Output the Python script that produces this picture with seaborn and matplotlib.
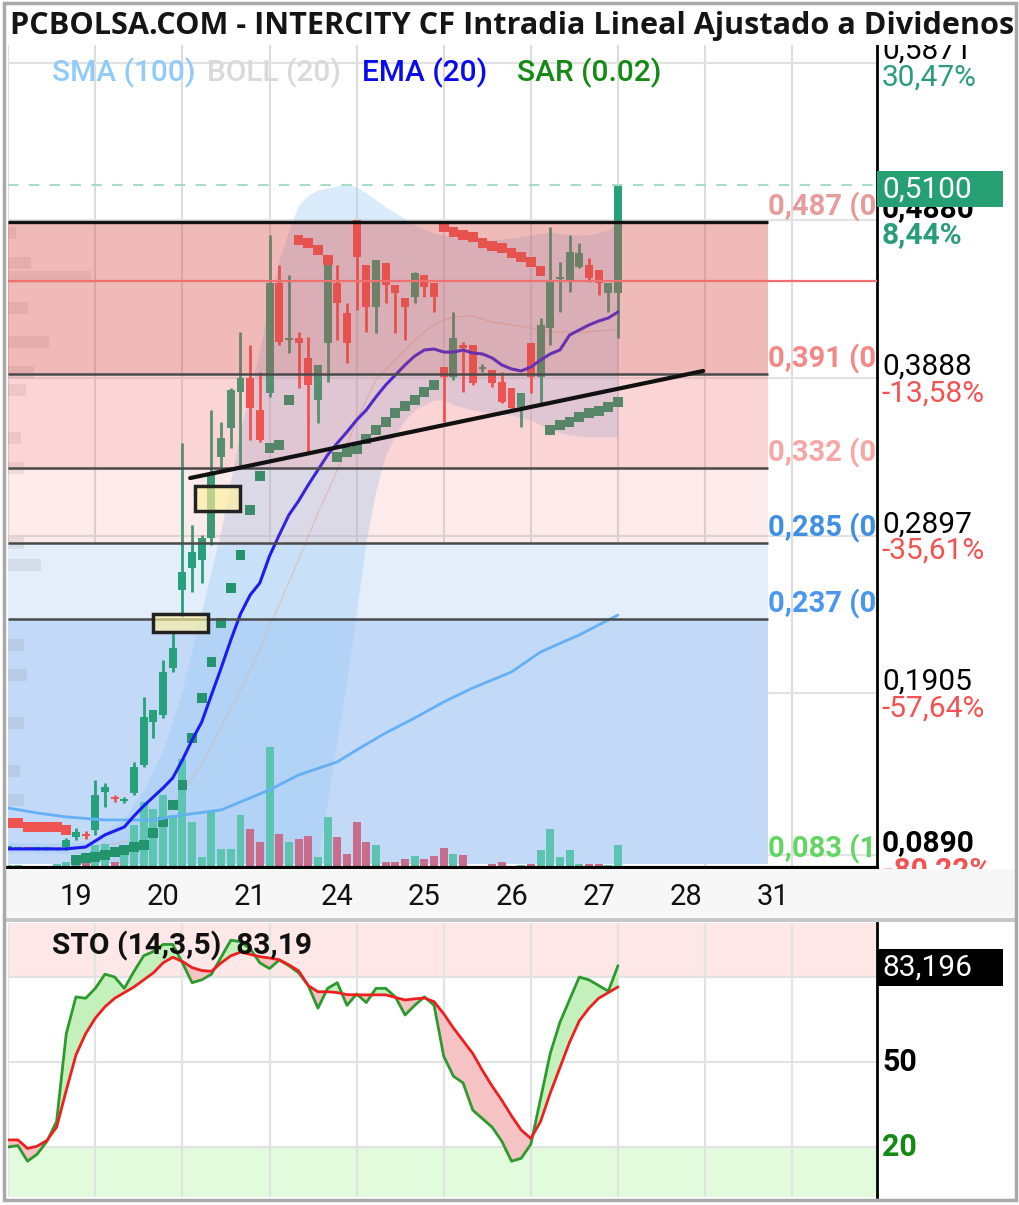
import numpy as np
import pandas as pd
import matplotlib
matplotlib.use("Agg")
import matplotlib.pyplot as plt
import seaborn as sns
from matplotlib.patches import Rectangle
from matplotlib.transforms import blended_transform_factory

sns.set_theme(style="white")
plt.rcParams['font.family'] = ['Roboto', 'DejaVu Sans']

# ------------------------------------------------------------------
# data: hourly bars, 9 per session
# ------------------------------------------------------------------
day_labels = ['19', '20', '21', '24', '25', '26', '27', '28', '31']
bars_per_day = 9

opens = [0.0935, 0.0930, 0.0930, 0.0925, 0.0925, 0.0922, 0.0940, 0.1003, 0.1022,
         0.1047, 0.1286, 0.1255, 0.1229, 0.1280, 0.1456, 0.1726, 0.1770, 0.2065,
         0.2556, 0.2694, 0.2744, 0.2882, 0.3391, 0.3574, 0.3800, 0.3888, 0.3687,
         0.3794, 0.4485, 0.4127, 0.4139, 0.4014, 0.3750, 0.4108, 0.4485, 0.4297,
         0.4881, 0.4598, 0.4334, 0.4611, 0.4473, 0.4391, 0.4397, 0.4535, 0.4485,
         0.3957, 0.3894, 0.4095, 0.4095, 0.3945, 0.3938, 0.3863, 0.3825, 0.3706,
         0.4108, 0.3894, 0.4202, 0.4510, 0.4491, 0.4586, 0.4598, 0.4567, 0.4422,
         0.4422]
highs = [0.0940, 0.0935, 0.0935, 0.0930, 0.0930, 0.0935, 0.0997, 0.1060, 0.1041,
         0.1361, 0.1343, 0.1267, 0.1255, 0.1475, 0.1883, 0.1801, 0.2116, 0.2285,
         0.3479, 0.2964, 0.2901, 0.3687, 0.3611, 0.3825, 0.4177, 0.4095, 0.3926,
         0.4787, 0.4598, 0.4535, 0.4177, 0.4146, 0.3970, 0.4598, 0.4598, 0.4359,
         0.4881, 0.4598, 0.4630, 0.4611, 0.4473, 0.4391, 0.4554, 0.4535, 0.4485,
         0.3957, 0.4303, 0.4114, 0.4095, 0.3976, 0.3938, 0.3926, 0.3825, 0.3794,
         0.4108, 0.4265, 0.4837, 0.4617, 0.4787, 0.4736, 0.4642, 0.4567, 0.4485,
         0.5100]
lows = [0.0930, 0.0925, 0.0925, 0.0920, 0.0920, 0.0918, 0.0921, 0.0984, 0.0991,
        0.1016, 0.1192, 0.1223, 0.1217, 0.1267, 0.1443, 0.1625, 0.1751, 0.2040,
        0.2386, 0.2543, 0.2600, 0.2838, 0.3329, 0.3448, 0.3329, 0.3498, 0.3486,
        0.3769, 0.4095, 0.4045, 0.3825, 0.3423, 0.3605, 0.3863, 0.4127, 0.3982,
        0.4315, 0.4177, 0.4171, 0.4359, 0.4171, 0.4127, 0.4359, 0.4397, 0.4303,
        0.3611, 0.3875, 0.3800, 0.3844, 0.3926, 0.3831, 0.3731, 0.3687, 0.3580,
        0.3794, 0.3731, 0.4095, 0.4303, 0.4429, 0.4579, 0.4491, 0.4410, 0.4303,
        0.4139]
closes = [0.0935, 0.0930, 0.0925, 0.0925, 0.0925, 0.0930, 0.0984, 0.1035, 0.1009,
          0.1267, 0.1317, 0.1242, 0.1242, 0.1443, 0.1757, 0.1801, 0.2040, 0.2191,
          0.2669, 0.2794, 0.2882, 0.3278, 0.3511, 0.3813, 0.3888, 0.3699, 0.3498,
          0.4485, 0.4114, 0.4133, 0.4108, 0.3844, 0.3970, 0.4598, 0.4359, 0.4108,
          0.4648, 0.4334, 0.4630, 0.4473, 0.4422, 0.4334, 0.4548, 0.4460, 0.4397,
          0.3894, 0.4139, 0.4077, 0.3857, 0.3957, 0.3857, 0.3737, 0.3699, 0.3794,
          0.3894, 0.4221, 0.4504, 0.4523, 0.4680, 0.4674, 0.4517, 0.4485, 0.4485,
          0.5100]
volume = [3, 3, 2, 2, 2, 4, 6, 9, 13, 23, 24, 6, 13, 43, 66, 59, 73, 53, 109, 46,
          11, 56, 19, 19, 53, 39, 26, 121, 34, 26, 29, 32, 11, 51, 31, 14, 46, 26,
          23, 6, 6, 9, 12, 9, 12, 20, 14, 13, 2, 1, 4, 6, 2, 3, 4, 18, 39, 11, 18,
          4, 4, 4, 3, 23]

ema20 = [0.0928, 0.0928, 0.0928, 0.0928, 0.0928, 0.0928, 0.0928, 0.0934, 0.0940,
         0.0978, 0.1016, 0.1041, 0.1066, 0.1135, 0.1198, 0.1255, 0.1311, 0.1374,
         0.1487, 0.1613, 0.1726, 0.1896, 0.2065, 0.2241, 0.2405, 0.2524, 0.2600,
         0.2769, 0.2901, 0.3027, 0.3115, 0.3216, 0.3310, 0.3404, 0.3479, 0.3549,
         0.3624, 0.3687, 0.3769, 0.3844, 0.3907, 0.3970, 0.4026, 0.4064, 0.4070,
         0.4051, 0.4051, 0.4064, 0.4045, 0.4039, 0.4014, 0.3970, 0.3945, 0.3932,
         0.3957, 0.4001, 0.4039, 0.4064, 0.4158, 0.4190, 0.4221, 0.4246, 0.4265,
         0.4303]
sar = [0.1091, 0.1091, 0.1066, 0.1066, 0.1066, 0.1066, 0.1047, 0.0859, 0.0871,
       0.0877, 0.0890, 0.0909, 0.0921, 0.0940, 0.0953, 0.1028, 0.1097, 0.1204,
       0.1330, 0.1625, 0.1877, 0.2103, 0.2348, 0.2568, 0.2776, 0.3058, 0.3272,
       0.3448, 0.3467, 0.3750, 0.4755, 0.4736, 0.4692, 0.4630, 0.3391, 0.3423,
       0.3442, 0.3505, 0.3561, 0.3611, 0.3668, 0.3712, 0.3750, 0.3800, 0.3844,
       0.4837, 0.4806, 0.4787, 0.4774, 0.4736, 0.4718, 0.4705, 0.4674, 0.4648,
       0.4617, 0.4560, 0.3561, 0.3593, 0.3611, 0.3643, 0.3668, 0.3681, 0.3706,
       0.3737]

sma_x = [0, 3, 6, 10, 15, 18, 22, 27, 30, 34, 36, 39, 42, 45, 48, 52, 55, 59, 63]
sma100 = [0.1185, 0.1154, 0.1129, 0.1110, 0.1110, 0.1141, 0.1173, 0.1299, 0.1393,
          0.1475, 0.1550, 0.1657, 0.1751, 0.1852, 0.1940, 0.2040, 0.2166, 0.2273,
          0.2398]

boll_x = [0, 4, 8, 9, 12, 14, 16, 18, 20, 22, 24, 26, 27, 28, 29, 30, 31, 32, 33,
          34, 35, 36, 37, 38, 39, 40, 41, 42, 43, 44, 45, 46, 48, 50, 52, 54, 56,
          58, 60, 62, 63]
boll_up = [0.0965, 0.0965, 0.0972, 0.0997, 0.1123, 0.1299, 0.1550, 0.1927, 0.2430,
           0.2933, 0.3561, 0.4064, 0.4378, 0.4630, 0.4818, 0.4975, 0.5038, 0.5070,
           0.5082, 0.5095, 0.5107, 0.5088, 0.5051, 0.5007, 0.4963, 0.4925, 0.4887,
           0.4850, 0.4824, 0.4799, 0.4787, 0.4774, 0.4755, 0.4755, 0.4768, 0.4787,
           0.4806, 0.4787, 0.4787, 0.4818, 0.4868]
boll_mid = [0.0934, 0.0934, 0.0934, 0.0940, 0.0972, 0.1035, 0.1141, 0.1286, 0.1456,
            0.1695, 0.1927, 0.2178, 0.2336, 0.2461, 0.2606, 0.2744, 0.2889, 0.3040,
            0.3172, 0.3310, 0.3467, 0.3624, 0.3750, 0.3875, 0.3938, 0.4001, 0.4064,
            0.4127, 0.4177, 0.4221, 0.4252, 0.4271, 0.4278, 0.4240, 0.4221, 0.4202,
            0.4177, 0.4177, 0.4177, 0.4190, 0.4190]
boll_low = [0.0903, 0.0903, 0.0896, 0.0871, 0.0821, 0.0733, 0.0607, 0.0419, 0.0230,
            0.0042, -0.0084, -0.0147, -0.0147, -0.0084, 0.0042, 0.0230, 0.0544,
            0.0859, 0.1236, 0.1613, 0.1990, 0.2430, 0.2870, 0.3184, 0.3404, 0.3530,
            0.3624, 0.3687, 0.3718, 0.3750, 0.3750, 0.3718, 0.3687, 0.3668, 0.3655,
            0.3624, 0.3561, 0.3530, 0.3517, 0.3517, 0.3517]

sto_k = [20, 20.5, 15, 17.5, 22, 29, 60, 73, 72.5, 76,
         81, 80, 76, 82, 87.5, 89, 91.5, 91.5, 85, 78,
         79, 81, 87, 93, 92.5, 90, 85, 83, 86, 84,
         81.5, 77, 69, 76, 78, 70, 74, 71, 76, 76,
         73, 66.6, 70, 73, 70, 52, 45, 42.6, 33, 30,
         27, 22, 15, 16, 21, 37, 53, 64, 72, 80,
         79, 77, 75, 84]
sto_d = [22.5, 22.5, 19.5, 20.3, 22.3, 27, 40, 52.5, 60, 65.5,
         69.5, 72.5, 74.5, 76.5, 79, 81.5, 85, 87, 85.5, 83.3,
         82.3, 82, 85, 87.5, 88.8, 88, 87.2, 86.7, 86.1, 84.3,
         82.2, 77, 74.8, 74.8, 74.5, 73.8, 73.7, 73.7, 73.7, 73.7,
         72.8, 71.9, 72.3, 72.6, 71.3, 67, 62, 57.5, 53, 47,
         41.5, 36.5, 31, 26, 23, 29, 39, 48, 57, 64.5,
         69, 72.5, 74.5, 76.5]
sto_last = 83.196

# fibonacci retracement (labels run off the panel edge, only the start shows)
fib_levels = [0.487, 0.391, 0.332, 0.285, 0.237, 0.083]
fib_labels = ['0,487 (0', '0,391 (0', '0,332 (0', '0,285 (0', '0,237 (0', '0,083 (1']
fib_colors = ['#e79c9c', '#f28888', '#f5a7a7', '#3f8fe2', '#4a97ec', '#62d562']
fib_end = 78.5

# price scale on the right
price_ticks = [0.5871, 0.4880, 0.3888, 0.2897, 0.1905, 0.0890]
price_labels = ['0,5871', '0,4880', '0,3888', '0,2897', '0,1905', '0,0890']
pct_labels = ['30,47%', '8,44%', '-13,58%', '-35,61%', '-57,64%', '-80,22%']
prev_close = 0.45
last_price = 0.51

# volume profile at the left edge
vp_price = [0.4799, 0.4611, 0.4523, 0.4328, 0.4114, 0.3926, 0.3813, 0.3511,
            0.3322, 0.2851, 0.2713, 0.2210, 0.2021, 0.1720, 0.1418, 0.1236]
vp_size = [0.8, 2.4, 8.6, 2.1, 4.2, 2.7, 1.9, 1.3, 1.7, 1.7, 3.4, 1.7, 2.0, 1.7,
           1.2, 1.7]

# drawn objects
trend_x = [18.8, 71.8]
trend_y = [0.3259, 0.3932]
gap_boxes = [(19.3, 23.95, 0.3052, 0.3209), (15.0, 20.6, 0.2292, 0.2405)]

# ------------------------------------------------------------------
W, H = 1020, 1205
YMIN, YMAX = 0.0808, 0.5981
XMIN, XMAX = -0.02, 89.76
VOL_SCALE = 0.0006285          # one volume unit = one pixel of price height
UP, DOWN = '#26a17b', '#ef5350'

df = pd.DataFrame({'open': opens, 'high': highs, 'low': lows, 'close': closes,
                   'volume': volume, 'ema': ema20, 'sar': sar,
                   'k': sto_k, 'd': sto_d})
df['bar'] = np.arange(len(df))
up = df['close'] >= df['open']


def fx(px):
    return px / W


def fy(py):
    return 1 - py / H


fig = plt.figure(figsize=(W / 100, H / 100), dpi=100)
fig.patch.set_facecolor('white')

# ---------------- main price panel ----------------
ax = fig.add_axes([fx(8), fy(868), 869 / W, 823 / H])
ax.set_facecolor('white')
ax.set_xlim(XMIN, XMAX)
ax.set_ylim(YMIN, YMAX)

day_starts = np.arange(0, 90, bars_per_day)
ax.vlines(day_starts, YMIN, YMAX, color='#dddddd', lw=1.5, zorder=0.5)
ax.hlines(price_ticks, XMIN, XMAX, color='#e2e2e2', lw=1.5, zorder=0.5)

# blue fib zones sit behind the candles
ax.fill_between([XMIN, fib_end], fib_levels[4], fib_levels[3], color='#e3eefa', lw=0, zorder=1)
ax.fill_between([XMIN, fib_end], fib_levels[5], fib_levels[4], color='#c2d9f8', lw=0, zorder=1)

# bollinger
ax.fill_between(boll_x, boll_low, boll_up, color='#96c8f5', alpha=0.35, lw=0, zorder=1.5)
sns.lineplot(x=boll_x, y=boll_mid, ax=ax, color='#d9b6a4', lw=1, alpha=0.55, zorder=1.6)

# volume profile
ax.barh(vp_price, vp_size, height=0.008, left=XMIN, color='#8a8a8a', alpha=0.16,
        lw=0, zorder=1.7)

# volume
vcol = np.where(up, '#5cc4b0', '#c86e8c')
ax.bar(df['bar'], df['volume'] * VOL_SCALE, bottom=YMIN, width=0.82, color=vcol,
       lw=0, zorder=2)

# candles
ccol = np.where(up, UP, DOWN)
ax.vlines(df['bar'], df['low'], df['high'], colors=ccol, lw=2, zorder=3)
body = (df['close'] - df['open']).abs().clip(lower=0.0013)
ax.bar(df['bar'], body, bottom=np.minimum(df['open'], df['close']), width=0.82,
       color=ccol, lw=0, zorder=3)

# parabolic SAR
sar_col = np.where(df['sar'] > df['close'], DOWN, '#23946e')
ax.scatter(df['bar'], df['sar'], marker='s', s=50, c=sar_col, lw=0, zorder=3.5)

# moving averages
sns.lineplot(x=sma_x, y=sma100, ax=ax, color='#64b0f4', lw=2, zorder=4)
sns.lineplot(data=df, x='bar', y='ema', ax=ax, color='#1c1cf0', lw=2.2, zorder=4)

# red fib zones drawn over the price
ax.fill_between([XMIN, fib_end], fib_levels[1], fib_levels[0], color='#d9534f',
                alpha=0.40, lw=0, zorder=5)
ax.fill_between([XMIN, fib_end], fib_levels[2], fib_levels[1], color='#f05a5a',
                alpha=0.25, lw=0, zorder=5)
ax.fill_between([XMIN, fib_end], fib_levels[3], fib_levels[2], color='#f05a5a',
                alpha=0.12, lw=0, zorder=5)

ax.hlines(fib_levels[0], XMIN, fib_end, color='#111111', lw=2.4, zorder=6)
ax.hlines(fib_levels[1:5], XMIN, fib_end, color='#4a4a4a', lw=1.8, zorder=6)
ax.hlines(prev_close, XMIN, XMAX, color='#f07070', lw=1.6, zorder=6)
ax.hlines(last_price, XMIN, XMAX, color='#a6dcc8', lw=1.5, linestyles=(0, (5, 5)),
          zorder=6)
ax.plot(trend_x, trend_y, color='#111111', lw=3, zorder=6)
for x0, x1, y0, y1 in gap_boxes:
    ax.add_patch(Rectangle((x0, y0), x1 - x0, y1 - y0, fc=(1, 0.95, 0.62, 0.65),
                           ec='#222222', lw=2.5, zorder=7))

for lvl, txt, c in zip(fib_levels, fib_labels, fib_colors):
    ax.text(fib_end, lvl, txt, color=c, fontsize=21, fontweight='bold',
            va='bottom', ha='left', clip_on=True, zorder=7)

# indicator legend
legend = [('SMA (100)', '#90cbf9', 52), ('BOLL (20)', '#d9d9d9', 207),
          ('EMA (20)', '#0a0aee', 362), ('SAR (0.02)', '#138a13', 517)]
for txt, c, px in legend:
    ax.text((px - 8) / 869, (868 - 73) / 823, txt, transform=ax.transAxes,
            color=c, fontsize=21.5, fontweight='medium', va='center', ha='left',
            zorder=8)

# right price scale
ytr = ax.get_yaxis_transform()
xlab = (882 - 8) / 869
for i, (p, lbl, pct) in enumerate(zip(price_ticks, price_labels, pct_labels)):
    bold = 'bold' if i in (1, 5) else 'normal'
    pc = '#2a9d78' if pct[0] != '-' else '#f25252'
    ax.annotate(lbl, (xlab, p), xycoords=ytr, xytext=(0, 2.5),
                textcoords='offset points', va='baseline', ha='left', fontsize=21.5,
                color='black', fontweight=bold, annotation_clip=False)
    ax.annotate(pct, (xlab, p), xycoords=ytr, xytext=(0, -1),
                textcoords='offset points', va='top', ha='left', fontsize=21.5,
                color=pc, fontweight=bold, annotation_clip=False)
ax.add_patch(Rectangle((1.0, last_price - 0.0135), 0.145, 0.0222, transform=ytr,
                       fc='#26a072', ec='none', clip_on=False, zorder=9))
ax.annotate('0,5100', (xlab, last_price - 0.0026), xycoords=ytr, va='center',
            ha='left', fontsize=21.5, color='white', annotation_clip=False, zorder=10)

ax.set_xticks([])
ax.set_yticks([])
ax.set_xlabel('')
ax.set_ylabel('')
for s in ('left', 'top'):
    ax.spines[s].set_visible(False)
ax.spines['right'].set_color('black')
ax.spines['right'].set_linewidth(2)
ax.spines['bottom'].set_color('black')
ax.spines['bottom'].set_linewidth(3)

# ---------------- title bar ----------------
tax = fig.add_axes([fx(5), fy(45), 1010 / W, 41 / H])
tax.set_facecolor('white')
tax.set_xticks([])
tax.set_yticks([])
for s in tax.spines.values():
    s.set_visible(False)
tax.text(5 / 1010, 0.47, 'PCBOLSA.COM - INTERCITY CF Intradia Lineal Ajustado a Dividenos',
         fontsize=22.1, fontweight='bold', family=['Open Sans', 'DejaVu Sans'],
         color='#151515', va='center', ha='left', clip_on=True)

# ---------------- date strip ----------------
dax = fig.add_axes([fx(5), fy(917), 1010 / W, 48 / H])
dax.set_facecolor('#f7f7f7')
dax.set_xticks([])
dax.set_yticks([])
for s in dax.spines.values():
    s.set_visible(False)
dtr = blended_transform_factory(ax.transData, dax.transAxes)
for pos, lbl in zip(day_starts + 7, day_labels):
    dax.text(pos, 0.42, lbl, transform=dtr, fontsize=21, color='#111111',
             ha='center', va='center')

fig.patches.append(Rectangle((fx(4), fy(922)), 1012 / W, 4 / H, transform=fig.transFigure,
                             fc='#c6c6c6', ec='none', zorder=5))

# ---------------- stochastic panel ----------------
sax = fig.add_axes([fx(8), fy(1197), 869 / W, 274 / H])
sax.set_facecolor('white')
sax.set_xlim(XMIN, XMAX)
sax.set_ylim(2.35, 99.07)
sax.axhspan(80, 100, color='#fde7e7', lw=0, zorder=0.2)
sax.axhspan(0, 20, color='#e1fbdc', lw=0, zorder=0.2)
sax.vlines(day_starts, 0, 100, color='#e2e2e2', lw=1.5, zorder=0.5)
sax.hlines([80, 50, 20], XMIN, XMAX, color='#e2e2e2', lw=1.5, zorder=0.5)

sax.fill_between(df['bar'], df['k'], df['d'], where=df['k'] >= df['d'],
                 interpolate=True, color='#c4f0bc', lw=0, zorder=1)
sax.fill_between(df['bar'], df['k'], df['d'], where=df['k'] < df['d'],
                 interpolate=True, color='#f5c3c3', lw=0, zorder=1)
sns.lineplot(data=df, x='bar', y='k', ax=sax, color='#2c9a2c', lw=2, zorder=2)
sns.lineplot(data=df, x='bar', y='d', ax=sax, color='#ec2020', lw=2, zorder=2.5)

sax.text((52 - 8) / 869, (1197 - 946) / 274, 'STO (14,3,5)  83,19',
         transform=sax.transAxes, fontsize=21.5, fontweight='bold', color='#111111',
         va='center', ha='left', zorder=5)

str_ = sax.get_yaxis_transform()
sax.add_patch(Rectangle((1.0, sto_last - 6.5), 0.145, 13.1, transform=str_,
                        fc='black', ec='none', clip_on=False, zorder=9))
sax.annotate('83,196', (xlab, sto_last), xycoords=str_, va='center', ha='left',
             fontsize=21.5, color='white', annotation_clip=False, zorder=10)
sax.annotate('50', (xlab, 50), xycoords=str_, va='center', ha='left', fontsize=22,
             fontweight='bold', color='black', annotation_clip=False)
sax.annotate('20', (xlab, 20), xycoords=str_, va='center', ha='left', fontsize=22,
             fontweight='bold', color='#138a13', annotation_clip=False)

sax.set_xticks([])
sax.set_yticks([])
sax.set_xlabel('')
sax.set_ylabel('')
for s in ('left', 'top', 'bottom'):
    sax.spines[s].set_visible(False)
sax.spines['right'].set_color('black')
sax.spines['right'].set_linewidth(2)

# outer frame
fig.patches.append(Rectangle((fx(4), fy(1200)), 1012 / W, 1197 / H, transform=fig.transFigure,
                             fill=False, ec='#a9a9a9', lw=2.5, zorder=20))

fig.savefig('out.png', dpi=100)
